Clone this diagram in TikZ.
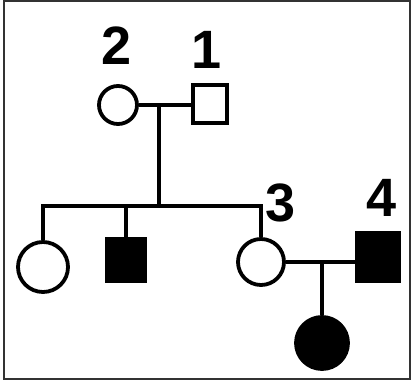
\documentclass[tikz,border=0pt]{standalone}
\usepackage{fontspec}
\setmainfont{Liberation Sans}
\begin{document}
\begin{tikzpicture}[x=1pt,y=-1pt,
  line/.style={line width=4.5pt},
  fem/.style={circle,draw,line width=3.8pt,inner sep=0pt},
  mal/.style={rectangle,draw,line width=3.8pt,inner sep=0pt},
  lbl/.style={inner sep=0pt,font=\fontsize{54}{54}\selectfont\bfseries}]
\useasboundingbox (0,0) rectangle (414,385);
\draw[line width=1.5pt,black!80] (4,1) rectangle (410,379);
% generation I
\node[fem,minimum size=38pt] (c2) at (118,105) {};
\node[mal,minimum width=34pt,minimum height=38pt] (s1) at (210,104) {};
\node[lbl] (l2) at (117,46) {2};
\node[lbl] (l1) at (207,50) {1};
\coordinate (m1) at (159,105);
\coordinate (sib) at (159,206);
\draw[line] (c2.east) -- (c2.east -| s1.west);
\draw[line] (m1) -- (sib);
% generation II
\node[fem,minimum size=50pt] (a) at (43,267) {};
\node[mal,fill=black,minimum width=39pt,minimum height=42pt] (b) at (126,260) {};
\node[fem,minimum size=46pt] (c3) at (261,262) {};
\node[mal,fill=black,minimum width=43pt,minimum height=49pt] (s4) at (378,257) {};
\node[lbl] (l3) at (281,203) {3};
\node[lbl] (l4) at (382,198) {4};
\draw[line] (a.north) -- (a.north |- sib) -- (c3.north |- sib) -- (c3.north);
\draw[line] (b.north) -- (b.north |- sib);
\draw[line] (c3.east) -- (c3.east -| s4.west);
% generation III
\node[fem,fill=black,minimum size=52pt] (d) at (322,343) {};
\coordinate (m2) at (322,262);
\draw[line] (m2) -- (d.north);
\end{tikzpicture}
\end{document}
